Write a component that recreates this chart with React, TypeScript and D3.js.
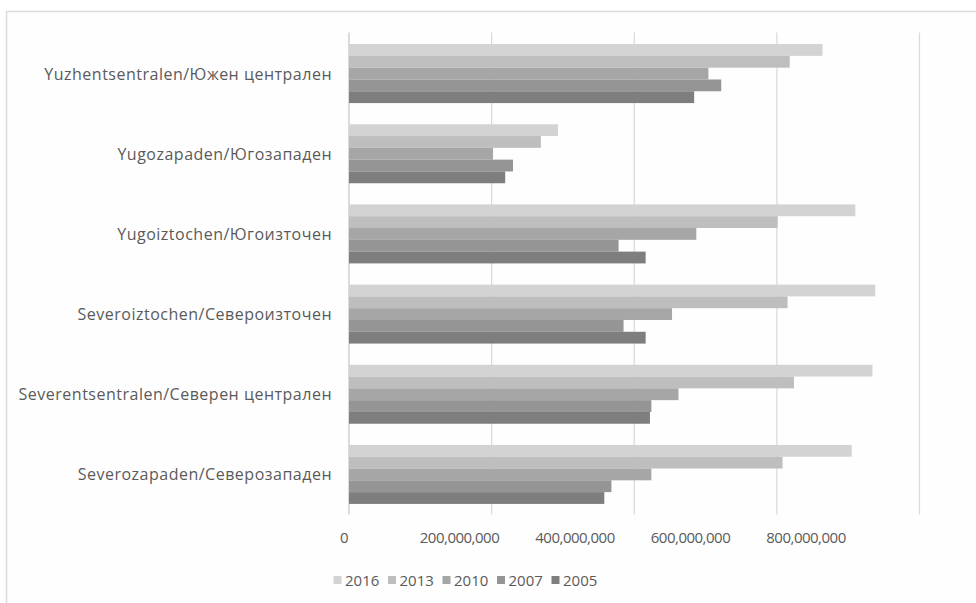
import React from "react";
import * as d3 from "d3";

// Regions, bottom to top in the plot
const regions = [
  "Severozapaden/Северозападен",
  "Severentsentralen/Северен централен",
  "Severoiztochen/Североизточен",
  "Yugoiztochen/Югоизточен",
  "Yugozapaden/Югозападен",
  "Yuzhentsentralen/Южен централен",
];

const years = ["2016", "2013", "2010", "2007", "2005"];

const values2016 = [705e6, 734e6, 738e6, 710e6, 293e6, 664e6];
const values2013 = [608e6, 624e6, 615e6, 601e6, 269e6, 618e6];
const values2010 = [424e6, 462e6, 453e6, 487e6, 202e6, 504e6];
const values2007 = [368e6, 424e6, 385e6, 378e6, 230e6, 522e6];
const values2005 = [358e6, 422e6, 416e6, 416e6, 219e6, 484e6];

const seriesValues = [values2016, values2013, values2010, values2007, values2005];

const tickValues = [0, 200e6, 400e6, 600e6, 800e6];
const tickLabels = ["0", "200,000,000", "400,000,000", "600,000,000", "800,000,000"];

const colors = ["#d3d3d3", "#bebebe", "#a6a6a6", "#959595", "#7e7e7e"];

const W = 976;
const H = 603;
const plotLeft = 349;
const plotRight = 919.5;
const plotTop = 33.5;
const plotBottom = 514.5;
const font = "'Open Sans', 'Noto Sans', sans-serif";
const textColor = "#5a5a5a";

export default function App() {
  const x = d3.scaleLinear().domain([0, 800e6]).range([plotLeft, plotRight]);
  // Tick labels sit on their own evenly spaced row under the plot
  const xLabel = d3.scaleLinear().domain([0, 800e6]).range([344, 806]);
  const y = d3
    .scaleBand<string>()
    .domain([...regions].reverse())
    .range([plotTop, plotBottom])
    .paddingInner(0.264)
    .paddingOuter(0.132);
  const ySub = d3.scaleBand<string>().domain(years).range([0, y.bandwidth()]);

  const legendX = d3.scalePoint<string>().domain(years).range([345, 563]);

  return (
    <div style={{ position: "fixed", left: 0, top: 0 }}>
      <svg width={W} height={H} style={{ display: "block", background: "#ffffff" }}>
        <rect x={6.5} y={11.5} width={W} height={H} fill="#fefefe" stroke="#dadada" strokeWidth={1.5} />
        {tickValues.map((t) => (
          <line
            key={t}
            x1={x(t)}
            x2={x(t)}
            y1={plotTop - 1}
            y2={plotBottom}
            stroke={t === 0 ? "#c4c4c4" : "#d9d9d9"}
            strokeWidth={1.2}
          />
        ))}
        {regions.map((r, ri) => (
          <g key={r} transform={`translate(0,${y(r)})`}>
            {years.map((yr, si) => (
              <rect
                key={yr}
                x={x(0)}
                y={ySub(yr)}
                width={x(seriesValues[si][ri]) - x(0)}
                height={ySub.bandwidth()}
                fill={colors[si]}
              />
            ))}
          </g>
        ))}
        {regions.map((r) => (
          <text
            key={r}
            x={332}
            y={(y(r) ?? 0) + y.bandwidth() / 2}
            textAnchor="end"
            dominantBaseline="central"
            fontFamily={font}
            fontSize={16}
            letterSpacing={0.5}
            fill={textColor}
          >
            {r}
          </text>
        ))}
        {tickValues.map((t, i) => (
          <text
            key={t}
            x={xLabel(t)}
            y={537}
            textAnchor="middle"
            dominantBaseline="central"
            fontFamily={font}
            fontSize={15}
            letterSpacing={-0.5}
            fill={textColor}
          >
            {tickLabels[i]}
          </text>
        ))}
        {years.map((yr, i) => (
          <g key={yr} transform={`translate(${legendX(yr)},580)`}>
            <rect x={-11.5} y={-4} width={8} height={8} fill={colors[i]} />
            <text
              x={0}
              y={0}
              dominantBaseline="central"
              fontFamily={font}
              fontSize={15}
              fill={textColor}
            >
              {yr}
            </text>
          </g>
        ))}
      </svg>
    </div>
  );
}
